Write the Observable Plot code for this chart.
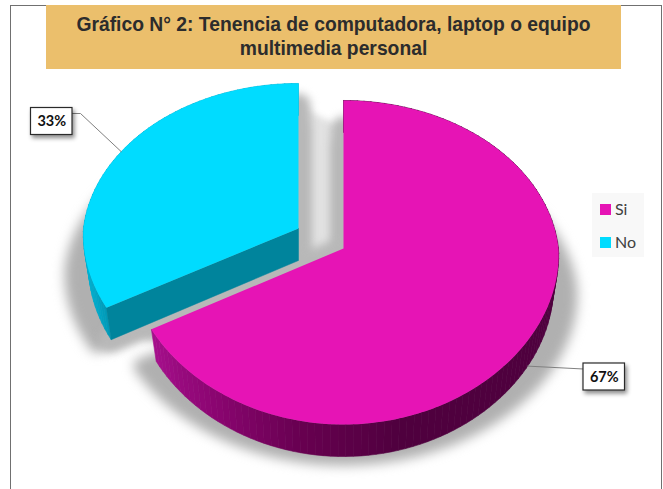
<!DOCTYPE html>
<html lang="es">
<head>
<meta charset="utf-8">
<script src="https://cdn.jsdelivr.net/npm/d3@7"></script>
<script src="https://cdn.jsdelivr.net/npm/@observablehq/plot@0.6"></script>
<style>
html,body{margin:0;padding:0;background:#fff;width:663px;height:489px;overflow:hidden}
#wrap{position:relative;width:663px;height:489px}
#frame{position:absolute;left:10px;top:5px;width:650px;height:490px;border:1.5px solid #707070;box-sizing:content-box}
#title{position:absolute;left:46px;top:5px;width:575px;height:64px;background:#ebbf6c;color:#2c2c2c;
  font:bold 19.3px/24px "Liberation Sans",Arial,sans-serif;text-align:center;padding-top:8px;box-sizing:border-box}
#chart{position:absolute;left:0;top:0}
#legend{position:absolute;left:592px;top:193px;width:52px;height:64px;background:#f8f8f8;
  font:16px/20px Lato,sans-serif;color:#404040}
.item{position:absolute;left:8px;height:20px;white-space:nowrap}
.item i{position:absolute;left:0;top:4px;width:10.5px;height:10.5px}
.item span{position:absolute;left:15px;top:-1px}
</style>
</head>
<body>
<div id="wrap">
  <div id="frame"></div>
  <div id="chart"></div>
  <div id="title"></div>
  <div id="legend"></div>
</div>
<script>
const titleLines = ["Gráfico N° 2: Tenencia de computadora, laptop o equipo", "multimedia personal"];
const categories = ["Si", "No"];
const shares = [67, 33];
const topColors = ["#e614b5", "#00dcff"];
const labels = ["67%", "33%"];

// 3D view of the pie
const apex = [[343, 248], [298, 228]];     // exploded centres
const flatten = [1, 0.98];
const depth = 32, radiusX = 215, radiusY = 160.8, perspY = 0.0864, perspXNear = 0.04, perspXFar = 0.0864, rimInset = 0.975;
const W = 663, H = 489;
const rad = Math.PI / 180;

const arcs = d3.pie().sort(null).value(d => d)(shares);

function proj(t, i) {
  const c = apex[i];
  const u = Math.sin(t), v = -Math.cos(t);
  const k = v > 0 ? perspXNear : perspXFar;
  return [c[0] + radiusX * u / (1 - k * v), c[1] + flatten[i] * radiusY * v / (1 - perspY * v)];
}
function rim(p, i) {
  return [apex[i][0] + (p[0] - apex[i][0]) * rimInset, p[1] + depth];
}
function arcPts(a, i) {
  const n = Math.ceil((a.endAngle - a.startAngle) / rad);
  return d3.range(n + 1).map(k => proj(a.startAngle + (a.endAngle - a.startAngle) * k / n, i));
}

const wallShade = [
  d3.scaleLinear().domain([241, 215, 190, 165, 0]).range(["#a60f8c", "#8a0570", "#66004f", "#4f003e", "#4f003e"]).clamp(true),
  d3.scaleLinear().domain([241, 250, 270, 360]).range(["#0098b6", "#00a8c8", "#00b4d4", "#00b4d4"]).clamp(true)
];
const cutColor = "#00849c";

// polygons
const tops = [], walls = [], cuts = [], shadows = [], gapBands = [], gapArea = [];
arcs.forEach((a, i) => {
  const c = apex[i];
  const outline = [c, ...arcPts(a, i), c];
  outline.forEach(p => tops.push({s: i, x: p[0], y: p[1]}));
  outline.forEach(p => shadows.push({
    s: i,
    x: c[0] + (p[0] - c[0]) * 1.05,
    y: c[1] + (p[1] - c[1]) * 0.96 + 40
  }));
  const n = Math.ceil((a.endAngle - a.startAngle) / (2 * rad));
  for (let k = 0; k < n; k++) {
    const t0 = a.startAngle + (a.endAngle - a.startAngle) * k / n;
    const t1 = a.startAngle + (a.endAngle - a.startAngle) * (k + 1) / n;
    const p0 = proj(t0, i), p1 = proj(t1, i);
    const col = wallShade[i]((t0 + t1) / 2 / rad);
    const id = i + "-" + k;
    [p0, p1, rim(p1, i), rim(p0, i), p0].forEach(q => walls.push({s: i, id, col, x: q[0], y: q[1]}));
  }
});
// shade thrown into the gap along the two cut edges that face each other
{
  const top0 = proj(0, 0), corner0 = proj(arcs[0].endAngle, 0);
  const top1 = proj(2 * Math.PI, 1), corner1 = rim(proj(arcs[1].startAngle, 1), 1), inner1 = rim(apex[1], 1);
  const band0Top = [top0[0], top0[1] + 28], band1Top = [top1[0], top1[1] + 22];
  [band0Top, apex[0], corner0].forEach(p => gapBands.push({s: 0, x: p[0], y: p[1]}));
  [band1Top, inner1, corner1].forEach(p => gapBands.push({s: 1, x: p[0], y: p[1]}));
  [band1Top, band0Top, apex[0], corner0, corner1, inner1, band1Top].forEach(p => gapArea.push({x: p[0], y: p[1]}));
}
// the cut face of the "No" slice, along its starting edge
{
  const c = apex[1], e = proj(arcs[1].startAngle, 1);
  [c, e, rim(e, 1), rim(c, 1), c].forEach(q => cuts.push({x: q[0], y: q[1]}));
}

// labels and leaders, anchored on each slice's mid-angle
const labelBoxes = [], leaders = [];
const boxW = 41.5, boxH = 27;
arcs.forEach((a, i) => {
  const m = proj((a.startAngle + a.endAngle) / 2, i);
  const anchor = i === 0 ? rim(m, 0) : m;
  const box = i === 0
    ? {x1: 583, y1: 363}
    : {x1: 30.5, y1: 107.5};
  box.x2 = box.x1 + boxW; box.y2 = box.y1 + boxH;
  box.label = labels[i];
  box.cx = (box.x1 + box.x2) / 2; box.cy = (box.y1 + box.y2) / 2;
  labelBoxes.push(box);
  const pts = i === 0
    ? [anchor, [box.x1, box.y1 + 5.5]]
    : [anchor, [box.x2 + 8, box.y1 + 5.5], [box.x2, box.y1 + 5.5]];
  pts.forEach(p => leaders.push({i, x: p[0], y: p[1]}));
});

const sliceOf = s => d => d.s === s;

const plot = Plot.plot({
  width: W, height: H,
  margin: 0,
  x: {domain: [0, W], range: [0, W], axis: null},
  y: {domain: [0, H], range: [0, H], axis: null},
  style: {background: "transparent", overflow: "visible"},
  marks: [
    Plot.line(gapArea, {x: "x", y: "y", fill: "#e2e2e2", stroke: "none", imageFilter: "blur(3px)"}),
    Plot.line(shadows, {x: "x", y: "y", z: "s", fill: "#b0b0b0", stroke: "#b0b0b0", strokeWidth: 16,
      strokeLinejoin: "round", imageFilter: "blur(6px)"}),
    Plot.line(gapBands, {x: "x", y: "y", z: "s", stroke: "#b8b8b8", strokeWidth: 24, imageFilter: "blur(4px)"}),
    // "No" slice
    Plot.line(walls.filter(sliceOf(1)), {x: "x", y: "y", z: "id", fill: "col", stroke: "col", strokeWidth: 0.6}),
    Plot.line(cuts, {x: "x", y: "y", fill: cutColor, stroke: cutColor, strokeWidth: 0.5}),
    Plot.line(tops.filter(sliceOf(1)), {x: "x", y: "y", fill: topColors[1], stroke: "none"}),
    // "Si" slice
    Plot.line(walls.filter(sliceOf(0)), {x: "x", y: "y", z: "id", fill: "col", stroke: "col", strokeWidth: 0.6}),
    Plot.line(tops.filter(sliceOf(0)), {x: "x", y: "y", fill: topColors[0], stroke: "none"}),
    // data labels
    Plot.line(leaders, {x: "x", y: "y", z: "i", stroke: "#808080", strokeWidth: 1}),
    Plot.rect(labelBoxes, {x1: "x1", x2: "x2", y1: "y1", y2: "y2", fill: "#fff", stroke: "#2a2a2a", strokeWidth: 1.2,
      imageFilter: "drop-shadow(2px 3px 2px rgba(0,0,0,.45))"}),
    Plot.text(labelBoxes, {x: "cx", y: "cy", text: "label", fontFamily: "Lato, sans-serif", fontWeight: "bold",
      fontSize: 14.5, fill: "#111"})
  ]
});
document.getElementById("chart").appendChild(plot);

document.getElementById("title").innerHTML = titleLines.join("<br>");
const legend = document.getElementById("legend");
categories.forEach((c, i) => {
  const d = document.createElement("div");
  d.className = "item";
  d.style.top = (7 + i * 33) + "px";
  d.innerHTML = `<i style="background:${topColors[i]}"></i><span>${c}</span>`;
  legend.appendChild(d);
});
</script>
</body>
</html>
